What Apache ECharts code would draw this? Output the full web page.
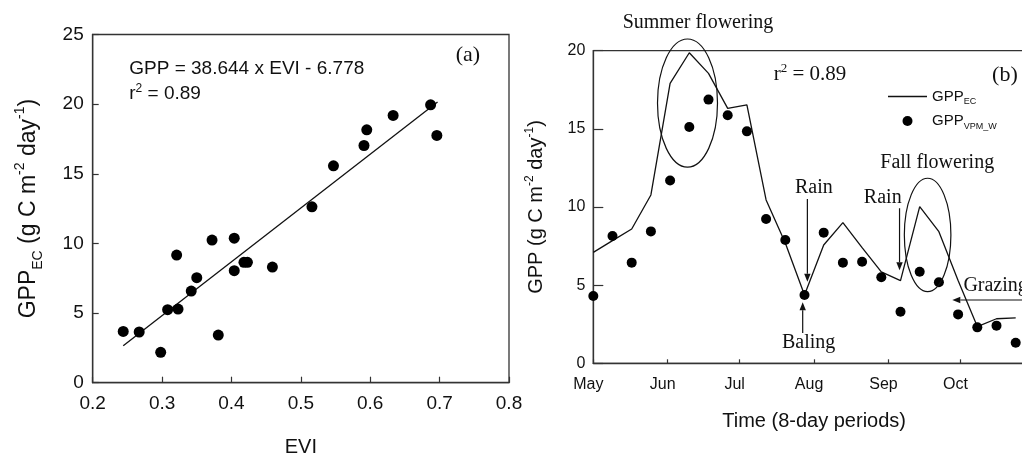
<!DOCTYPE html>
<html><head><meta charset="utf-8">
<script src="https://cdn.jsdelivr.net/npm/echarts@6/dist/echarts.min.js"></script>
<style>html,body{margin:0;padding:0;background:#fff}#c{width:1022px;height:453px}</style>
</head><body><div id="c"></div>
<script>
// ---------- Panel (a): GPP_EC vs EVI ----------
const eviValues = [0.244,0.267,0.298,0.308,0.323,0.321,0.342,0.350,0.381,0.372,0.404,0.404,0.418,0.423,0.459,0.516,0.547,0.591,0.595,0.633,0.687,0.696];
const gppEcScatter = [3.68,3.64,2.18,5.24,5.29,9.16,6.58,7.54,3.42,10.24,10.38,8.04,8.64,8.64,8.30,12.63,15.57,17.03,18.16,19.19,19.95,17.75];
const fitLineEvi = [0.244, 0.697];
const fitLineGpp = [2.65, 20.16];

// ---------- Panel (b): time series (days since May 1, 8-day periods) ----------
const periodDays = [0,8,16,24,32,40,48,56,64,72,80,88,96,104,112,120,128,136,144,152,160,168,176];
const gppEcSeries = [7.10,7.85,8.59,10.77,17.91,19.87,18.55,16.31,16.53,10.45,7.70,4.37,7.57,9.00,7.40,5.85,5.29,10.02,8.42,5.30,2.35,2.85,2.90];
const gppVpmSeries = [4.31,8.14,6.44,8.44,11.69,15.12,16.87,15.87,14.84,9.23,7.89,4.37,8.36,6.44,6.50,5.50,3.30,5.86,5.18,3.13,2.30,2.41,1.32];
const monthLabels = ['May','Jun','Jul','Aug','Sep','Oct'];
const monthStartDays = [0,31,61,92,123,153];

const SANS = "'Liberation Sans', Arial, sans-serif";
const SERIF = "'Liberation Serif', 'Times New Roman', serif";
const AX = '#333';
const INK = '#111';

const chart = echarts.init(document.getElementById('c'), null, {renderer: 'canvas'});

const option = {
  animation: false,
  backgroundColor: '#fff',
  grid: [
    {left: 92.7, top: 34.5, width: 416.3, height: 348.2, show: true, borderColor: AX, borderWidth: 1.3,
     backgroundColor: 'transparent', containLabel: false, outerBoundsMode: 'none'},
    {left: 593.3, top: 50.7, width: 441.6, height: 312.6, show: true, borderColor: AX, borderWidth: 1.3,
     backgroundColor: 'transparent', containLabel: false, outerBoundsMode: 'none'}
  ],
  xAxis: [
    {
      type: 'value', gridIndex: 0, min: 0.2, max: 0.8, interval: 0.1,
      name: 'EVI', nameLocation: 'middle', nameGap: 55,
      nameTextStyle: {fontFamily: SANS, fontSize: 20, color: INK},
      axisLine: {lineStyle: {color: AX, width: 1.3}},
      axisTick: {inside: true, length: 6, lineStyle: {color: AX, width: 1.2}},
      axisLabel: {fontFamily: SANS, fontSize: 19, color: INK, margin: 12, formatter: v => v.toFixed(1)},
      splitLine: {show: false}
    },
    {
      type: 'value', gridIndex: 1, min: 0, max: 184,
      name: 'Time (8-day periods)', nameLocation: 'middle', nameGap: 48,
      nameTextStyle: {fontFamily: SANS, fontSize: 20, color: INK},
      axisLine: {lineStyle: {color: AX, width: 1.3}},
      axisTick: {inside: true, length: 4, customValues: monthStartDays, lineStyle: {color: AX, width: 1.2}},
      axisLabel: {fontFamily: SANS, fontSize: 16, color: INK, margin: 13, customValues: monthStartDays,
        padding: [0, 10, 0, 0],
        formatter: v => monthLabels[monthStartDays.indexOf(v)] || ''},
      splitLine: {show: false}
    }
  ],
  yAxis: [
    {
      type: 'value', gridIndex: 0, min: 0, max: 25, interval: 5,
      name: '{m|GPP}{s|EC}{m| (g C m}{p|-2}{m| day}{p|-1}{m|)}',
      nameLocation: 'middle', nameGap: 48,
      nameTextStyle: {fontFamily: SANS, color: INK,
        rich: {
          m: {fontFamily: SANS, fontSize: 23, lineHeight: 32, color: INK},
          s: {fontFamily: SANS, fontSize: 14, lineHeight: 14, verticalAlign: 'bottom', color: INK},
          p: {fontFamily: SANS, fontSize: 14, lineHeight: 14, verticalAlign: 'top', color: INK}
        }},
      axisLine: {lineStyle: {color: AX, width: 1.3}},
      axisTick: {inside: true, length: 6, lineStyle: {color: AX, width: 1.2}},
      axisLabel: {fontFamily: SANS, fontSize: 19, color: INK, margin: 9},
      splitLine: {show: false}
    },
    {
      type: 'value', gridIndex: 1, min: 0, max: 20, interval: 5,
      name: '{m|GPP (g C m}{p|-2}{m| day}{p|-1}{m|)}',
      nameLocation: 'middle', nameGap: 44,
      nameTextStyle: {fontFamily: SANS, color: INK,
        rich: {
          m: {fontFamily: SANS, fontSize: 20, lineHeight: 26, color: INK},
          p: {fontFamily: SANS, fontSize: 12, lineHeight: 12, verticalAlign: 'top', color: INK}
        }},
      axisLine: {lineStyle: {color: AX, width: 1.3}},
      axisTick: {inside: true, length: 10, lineStyle: {color: AX, width: 1.2}},
      axisLabel: {fontFamily: SANS, fontSize: 16, color: INK, margin: 8},
      splitLine: {show: false}
    }
  ],
  legend: {
    orient: 'vertical', left: 883, top: 84, itemWidth: 39, itemHeight: 10, itemGap: 7,
    symbolKeepAspect: true,
    data: [
      {name: 'GPP_EC', icon: 'path://M0,0L39,0L39,1.3L0,1.3Z', itemStyle: {color: INK}},
      {name: 'GPP_VPM_W', icon: 'circle', itemStyle: {color: '#000', opacity: 1}}
    ],
    formatter: n => n === 'GPP_EC' ? '{m|GPP}{s|EC}' : '{m|GPP}{s|VPM_W}',
    textStyle: {
      color: INK,
      rich: {
        m: {fontFamily: SANS, fontSize: 15, lineHeight: 20, color: INK},
        s: {fontFamily: SANS, fontSize: 9, lineHeight: 9, verticalAlign: 'bottom', color: INK}
      }
    }
  },
  series: [
    {
      name: 'fit', type: 'line', xAxisIndex: 0, yAxisIndex: 0, symbol: 'none',
      data: fitLineEvi.map((x, i) => [x, fitLineGpp[i]]),
      lineStyle: {color: INK, width: 1.3}, z: 2, silent: true
    },
    {
      name: 'GPP_EC vs EVI', type: 'scatter', xAxisIndex: 0, yAxisIndex: 0, symbolSize: 11,
      data: eviValues.map((x, i) => [x, gppEcScatter[i]]),
      itemStyle: {color: '#000', opacity: 1}, z: 3
    },
    {
      name: 'GPP_EC', type: 'line', xAxisIndex: 1, yAxisIndex: 1, symbol: 'none',
      data: periodDays.map((d, i) => [d, gppEcSeries[i]]),
      lineStyle: {color: INK, width: 1.3}, itemStyle: {color: INK}, z: 2
    },
    {
      name: 'GPP_VPM_W', type: 'scatter', xAxisIndex: 1, yAxisIndex: 1, symbolSize: 10,
      data: periodDays.map((d, i) => [d, gppVpmSeries[i]]),
      itemStyle: {color: '#000', opacity: 1}, z: 3
    }
  ]
};
chart.setOption(option);

// ---------- Annotations anchored in data coordinates ----------
const P = (g, x, y) => chart.convertToPixel({gridIndex: g}, [x, y]);
const els = [];
function text(g, x, y, str, font, size, align, rich) {
  const p = P(g, x, y);
  const st = {text: str, fill: INK, font: size + 'px ' + font, fontSize: size, fontFamily: font,
    align: align || 'center', verticalAlign: 'middle', textAlign: align || 'center', textVerticalAlign: 'middle'};
  if (rich) st.rich = rich;
  els.push({type: 'text', x: p[0], y: p[1], style: st, z: 10});
}
function ellipse(g, cx, cy, rdx, rdy) {
  const c = P(g, cx, cy), e = P(g, cx + rdx, cy + rdy);
  els.push({type: 'ellipse', shape: {cx: c[0], cy: c[1], rx: Math.abs(e[0] - c[0]), ry: Math.abs(c[1] - e[1])},
    style: {fill: 'none', stroke: INK, lineWidth: 1.2}, z: 10});
}
function arrow(g, x1, y1, x2, y2) {
  const a = P(g, x1, y1), b = P(g, x2, y2);
  const dx = b[0] - a[0], dy = b[1] - a[1], L = Math.hypot(dx, dy), ux = dx / L, uy = dy / L;
  const hl = 8, hw = 3.2;
  const bx = b[0] - ux * hl, by = b[1] - uy * hl;
  els.push({type: 'line', shape: {x1: a[0], y1: a[1], x2: bx, y2: by}, style: {stroke: INK, lineWidth: 1.2}, z: 10});
  els.push({type: 'polygon', shape: {points: [[b[0], b[1]], [bx - uy * hw, by + ux * hw], [bx + uy * hw, by - ux * hw]]},
    style: {fill: INK}, z: 10});
}
const supRich = (size, font) => ({
  m: {fontFamily: font, fontSize: size, lineHeight: size + 4, fill: INK, color: INK},
  p: {fontFamily: font, fontSize: Math.round(size * 0.62), lineHeight: Math.round(size * 0.62), verticalAlign: 'top', fill: INK, color: INK}
});

// Panel (a)
text(0, 0.2527, 22.52, 'GPP = 38.644 x EVI - 6.778', SANS, 19, 'left');
text(0, 0.2527, 20.73, '{m|r}{p|2}{m| = 0.89}', SANS, 19, 'left', supRich(19, SANS));
text(0, 0.7408, 23.52, '(a)', SERIF, 22);

// Panel (b)
text(1, 43.6, 21.79, 'Summer flowering', SERIF, 20);
text(1, 90.3, 18.45, '{m|r}{p|2}{m| = 0.89}', SERIF, 21, 'center', supRich(21, SERIF));
text(1, 171.5, 18.45, '(b)', SERIF, 22);
text(1, 143.3, 12.86, 'Fall flowering', SERIF, 20);
text(1, 91.9, 11.2, 'Rain', SERIF, 20);
text(1, 120.6, 10.56, 'Rain', SERIF, 20);
text(1, 89.75, 1.34, 'Baling', SERIF, 20);
text(1, 154.2, 4.96, 'Grazing', SERIF, 20, 'left');
ellipse(1, 39.25, 16.65, 12.5, 4.1);
ellipse(1, 139.3, 8.21, 9.7, 3.63);
arrow(1, 89.2, 10.51, 89.2, 5.22);
arrow(1, 127.6, 9.92, 127.6, 5.96);
arrow(1, 87.25, 1.94, 87.25, 3.9);
arrow(1, 186, 4.05, 149.6, 4.05);

chart.setOption({graphic: {elements: els}});
</script>
</body></html>
